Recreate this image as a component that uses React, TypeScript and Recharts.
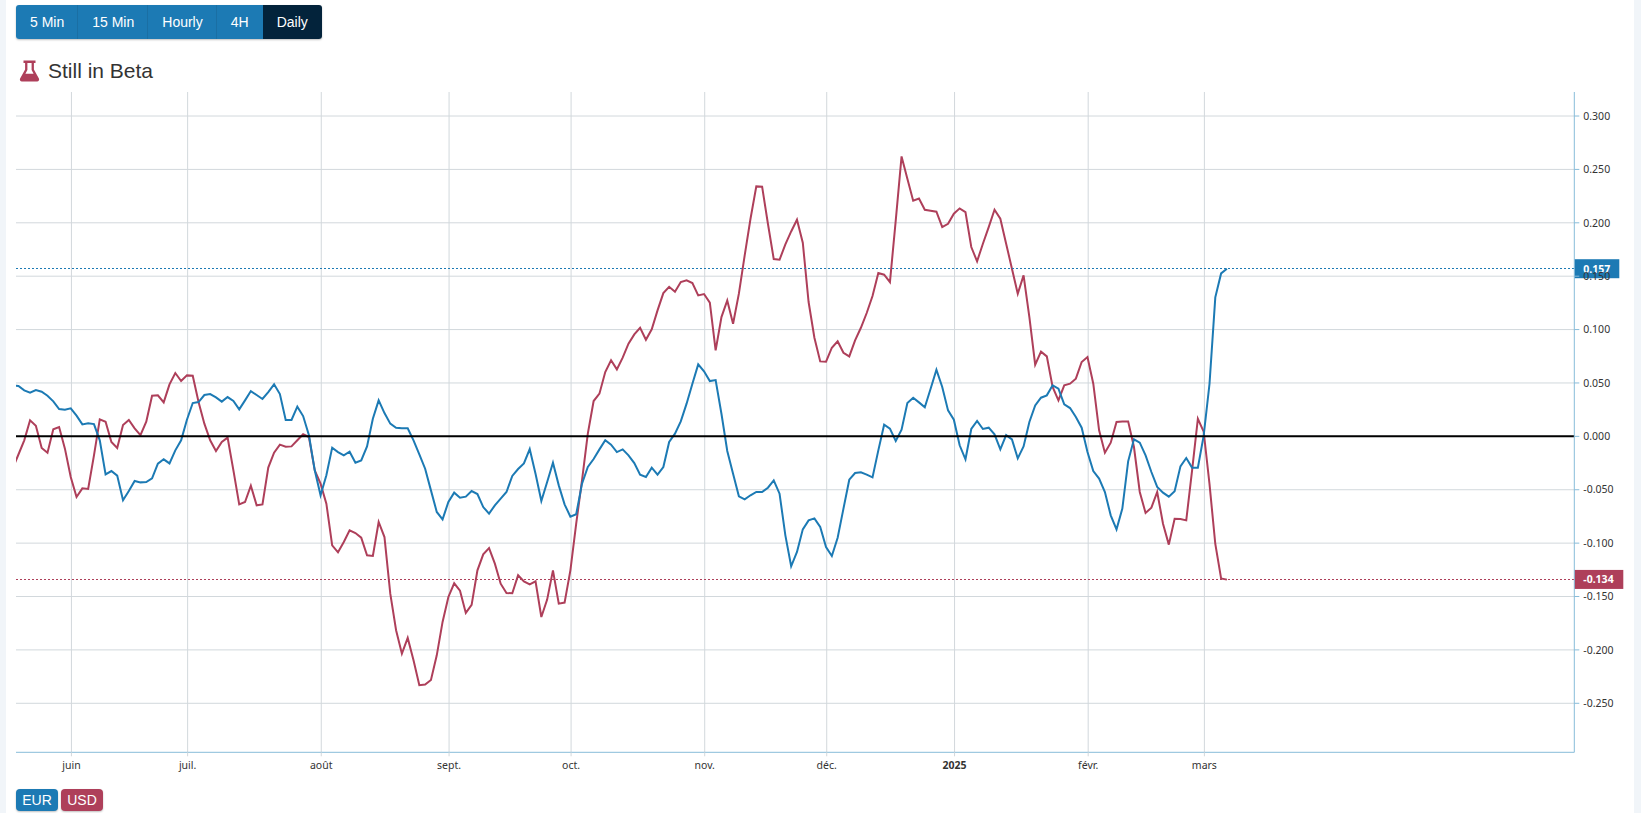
import React from "react";
import { LineChart, Line, XAxis, YAxis, CartesianGrid, ReferenceLine } from "recharts";

const eurValues = [
  0.048,
  0.0471, 0.0431, 0.0409, 0.0434, 0.0418, 0.0381, 0.0328, 0.0256, 0.025, 0.0262,
  0.0194, 0.0112, 0.0122, 0.0115, -0.0037, -0.0356, -0.0325, -0.0368, -0.0599, -0.0512,
  -0.0418, -0.0431, -0.0428, -0.0393, -0.0256, -0.0215, -0.0253, -0.0131, -0.0037, 0.0156,
  0.0312, 0.0321, 0.0387, 0.0396, 0.0365, 0.0325, 0.0368, 0.0331, 0.0253, 0.0337,
  0.0424, 0.0387, 0.035, 0.0415, 0.0487, 0.0396, 0.0153, 0.0153, 0.0278, 0.019,
  0.001, -0.0318, -0.0552, -0.0365, -0.0106, -0.0147, -0.0178, -0.0144, -0.0247, -0.0225,
  -0.0094, 0.0165, 0.0337, 0.0218, 0.0119, 0.0081, 0.0075, 0.0075, -0.0037, -0.0169,
  -0.0303, -0.0506, -0.0708, -0.0777, -0.0615, -0.0527, -0.0574, -0.0565, -0.0512, -0.054,
  -0.0662, -0.0724, -0.0646, -0.0584, -0.0521, -0.0371, -0.0306, -0.0253, -0.0119, -0.035,
  -0.0605, -0.0428, -0.0247, -0.0459, -0.0637, -0.0752, -0.073, -0.0443, -0.0287, -0.0212,
  -0.0122, -0.0037, -0.0078, -0.0147, -0.0122, -0.0178, -0.025, -0.0359, -0.0381, -0.0293,
  -0.0359, -0.0287, -0.0053, 0.0025, 0.014, 0.0306, 0.0493, 0.0674, 0.0609, 0.0518,
  0.0527, 0.0212, -0.0137, -0.035, -0.0562, -0.059, -0.0552, -0.0521, -0.0521, -0.0481,
  -0.0412, -0.0537, -0.0927, -0.1217, -0.1083, -0.0871, -0.0787, -0.0768, -0.0849, -0.1036,
  -0.112, -0.0949, -0.0677, -0.0406, -0.0343, -0.0337, -0.0359, -0.0384, -0.0131, 0.0109,
  0.0072, -0.0044, 0.0062, 0.0312, 0.0362, 0.0318, 0.0272, 0.0446, 0.0624, 0.0462,
  0.0243, 0.0156, -0.0084, -0.0215, 0.0069, 0.0144, 0.0069, 0.0081, 0.0019, -0.0122,
  0.0012, -0.0028, -0.0206, -0.0094, 0.0134, 0.029, 0.0362, 0.0384, 0.0478, 0.0446,
  0.03, 0.0265, 0.0181, 0.0081, -0.0147, -0.0325, -0.0396, -0.0521, -0.074, -0.0871,
  -0.0677, -0.0234, -0.0028, -0.0059, -0.0178, -0.0334, -0.0474, -0.0527, -0.0565, -0.0515,
  -0.0281, -0.0203, -0.0293, -0.0293, 0.0006, 0.049, 0.1302, 0.1526, 0.157,
];

const usdValues = [
  -0.03,
  -0.017, -0.0037, 0.015, 0.01, -0.0109, -0.0153, 0.0066, 0.0087, -0.0115, -0.0381,
  -0.0568, -0.0487, -0.0493, -0.0178, 0.0159, 0.0137, -0.0053, -0.0109, 0.0106, 0.0153,
  0.0075, 0.0012, 0.0137, 0.0381, 0.0384, 0.0318, 0.0487, 0.0593, 0.0518, 0.0571,
  0.0568, 0.0321, 0.0119, -0.0037, -0.0137, -0.0053, -0.0012, -0.0318, -0.0637, -0.0615,
  -0.0462, -0.0646, -0.0637, -0.0293, -0.0153, -0.0078, -0.0097, -0.0094, -0.0037, 0.0019,
  -0.0006, -0.0318, -0.0443, -0.063, -0.1021, -0.1086, -0.0989, -0.088, -0.0905, -0.0949,
  -0.1114, -0.112, -0.0802, -0.0943, -0.1473, -0.1816, -0.2035, -0.1888, -0.2097, -0.2331,
  -0.2325, -0.2282, -0.2051, -0.1738, -0.1504, -0.1376, -0.1445, -0.1654, -0.1579, -0.1255,
  -0.1105, -0.1046, -0.1192, -0.138, -0.1467, -0.147, -0.1301, -0.1358, -0.1386, -0.1358,
  -0.1692, -0.1529, -0.1255, -0.1567, -0.1557, -0.1255, -0.0818, -0.0412, 0.0025, 0.0331,
  0.04, 0.0602, 0.0712, 0.0627, 0.0737, 0.0868, 0.0955, 0.1017, 0.0905, 0.1002,
  0.118, 0.1342, 0.1401, 0.1355, 0.1445, 0.1461, 0.1436, 0.132, 0.1333, 0.1252,
  0.0805, 0.1117, 0.1273, 0.1055, 0.1336, 0.1695, 0.2038, 0.2341, 0.2338, 0.1991,
  0.166, 0.1654, 0.1798, 0.1919, 0.2029, 0.1813, 0.1258, 0.0924, 0.0702, 0.0699,
  0.083, 0.089, 0.0783, 0.0749, 0.0899, 0.1017, 0.1155, 0.1314, 0.1529, 0.1514,
  0.1445, 0.2022, 0.2622, 0.2413, 0.2207, 0.2228, 0.2122, 0.2113, 0.2104, 0.196,
  0.1991, 0.2085, 0.2135, 0.21, 0.1773, 0.1639, 0.1804, 0.196, 0.2122, 0.2038,
  0.1804, 0.157, 0.1336, 0.1508, 0.1117, 0.0671, 0.0793, 0.0749, 0.0462, 0.0337,
  0.0478, 0.0493, 0.054, 0.0696, 0.0743, 0.0493, 0.0056, -0.0153, -0.0059, 0.0134,
  0.014, 0.014, -0.01, -0.0521, -0.0718, -0.0668, -0.0521, -0.0818, -0.1014, -0.0771,
  -0.0774, -0.0787, -0.0321, 0.0165, 0.0044, -0.0446, -0.1008, -0.133, -0.1342,
];

const monthPositions = [10.12, 30.12, 53.12, 75.12, 96.12, 119.12, 140.12, 162.12, 185.12, 205.12];
const monthLabels = ["juin", "juil.", "août", "sept.", "oct.", "nov.", "déc.", "2025", "févr.", "mars"];
const yTicks = [0.3, 0.25, 0.2, 0.15, 0.1, 0.05, 0, -0.05, -0.1, -0.15, -0.2, -0.25];
const timeframes = ["5 Min", "15 Min", "Hourly", "4H", "Daily"];
const legendNames = ["EUR", "USD"];
const lastEur = 0.157;
const lastUsd = -0.134;

const BLUE = "#1c7ab4";
const RED = "#ae3f5a";
const GRID = "#d2d8dc";
const AXIS = "#88bcd9";
const SANS = "'Liberation Sans', Arial, sans-serif";
const TICK_FONT = "'Noto Sans', sans-serif";

const tableRows = eurValues.map((eur, i) => ({ i, eur, usd: usdValues[i] }));

const XTick = (props: any) => {
  const { x, y, payload } = props;
  const label = monthLabels[monthPositions.indexOf(payload.value)];
  return (
    <text x={x} y={y + 11} textAnchor="middle" fontFamily={TICK_FONT} fontSize={10.5} fill="#333"
      fontWeight={label === "2025" ? 700 : 400}>
      {label}
    </text>
  );
};

const makePriceTag = (text: string, color: string, w: number) => (props: any) => {
  const { viewBox } = props;
  const right = viewBox.x + viewBox.width;
  const y = viewBox.y;
  return (
    <g>
      <rect x={right} y={y - 9.5} width={w} height={19} fill={color} />
      <text x={right + 9} y={y + 3.8} fontFamily={TICK_FONT} fontSize={10.5} fontWeight={700} fill="#fff">{text}</text>
    </g>
  );
};

const btnColor = (i: number) => (i === timeframes.length - 1 ? "#03233b" : BLUE);

export default function App() {
  return (
    <div style={{ position: "fixed", left: 0, top: 0, width: 1641, height: 813, background: "#f1f5f9", overflow: "hidden" }}>
      <div style={{ position: "absolute", left: 6, top: 0, width: 1628, height: 813, background: "#fff" }} />

      <div style={{ position: "absolute", left: 16, top: 5, height: 34, display: "flex", borderRadius: 3, overflow: "hidden", boxShadow: "0 1px 2px rgba(0,0,0,.25)", fontFamily: SANS, fontSize: 14, color: "#fff" }}>
        {timeframes.map((t, i) => (
          <div key={t} style={{ background: btnColor(i), padding: "0 14px", lineHeight: "34px", borderLeft: i > 0 && i < 4 ? "1px solid #1a6fa4" : "none", marginLeft: i > 0 && i < 4 ? -1 : 0 }}>{t}</div>
        ))}
      </div>

      <svg style={{ position: "absolute", left: 19, top: 59 }} width={21} height={23} viewBox="0 0 21 23">
        <path d="M4.5 1.5h12v2.6h-1.6v6.3l5 9.2c.7 1.4-.2 2.9-1.8 2.9H2.9c-1.6 0-2.5-1.5-1.8-2.9l5-9.2V4.1H4.5z M8.4 4.1v6.9l-2 3.8h8.2l-2-3.8V4.1z" fill={RED} fillRule="evenodd" />
      </svg>
      <div style={{ position: "absolute", left: 48, top: 58, fontFamily: SANS, fontSize: 21, lineHeight: "26px", color: "#333" }}>Still in Beta</div>

      <div style={{ position: "absolute", left: 0, top: 0 }}>
        <LineChart width={1641} height={813} data={tableRows} margin={{ top: 92, right: 6.7, bottom: 30.7, left: 16 }}>
          <CartesianGrid stroke={GRID} strokeWidth={1} syncWithTicks />
          <XAxis dataKey="i" type="number" domain={[0.58, 268.79]} ticks={monthPositions} allowDataOverflow
            height={30} tick={XTick} tickSize={4} stroke={AXIS} interval={0} tickLine={{ stroke: GRID }} />
          <YAxis orientation="right" type="number" domain={[-0.2959, 0.3225]} ticks={yTicks} allowDataOverflow
            width={60} tickSize={5} tickMargin={4} stroke={AXIS} interval={0}
            tickFormatter={(v: number) => v.toFixed(3)}
            tick={{ fontFamily: TICK_FONT, fontSize: 10.5, fill: "#333" }} />
          <Line dataKey="usd" name="USD" type="linear" stroke={RED} strokeWidth={2} dot={false} isAnimationActive={false} />
          <Line dataKey="eur" name="EUR" type="linear" stroke={BLUE} strokeWidth={2} dot={false} isAnimationActive={false} />
          <ReferenceLine y={0} stroke="#000" strokeWidth={2} />
          <ReferenceLine y={lastEur} stroke={BLUE} strokeWidth={1} strokeDasharray="2 2" shapeRendering="crispEdges" label={makePriceTag(lastEur.toFixed(3), BLUE, 45)} />
          <ReferenceLine y={lastUsd} stroke={RED} strokeWidth={1} strokeDasharray="2 2" shapeRendering="crispEdges" label={makePriceTag(lastUsd.toFixed(3), RED, 49)} />
        </LineChart>
      </div>

      <div style={{ position: "absolute", left: 16, top: 789, display: "flex", gap: 3, fontFamily: SANS, fontSize: 14, color: "#fff" }}>
        {legendNames.map((n, i) => (
          <div key={n} style={{ width: 42, height: 22, lineHeight: "22px", textAlign: "center", borderRadius: 4, background: i === 0 ? BLUE : RED, boxShadow: "0 1px 2px rgba(0,0,0,.25)" }}>{n}</div>
        ))}
      </div>
    </div>
  );
}
